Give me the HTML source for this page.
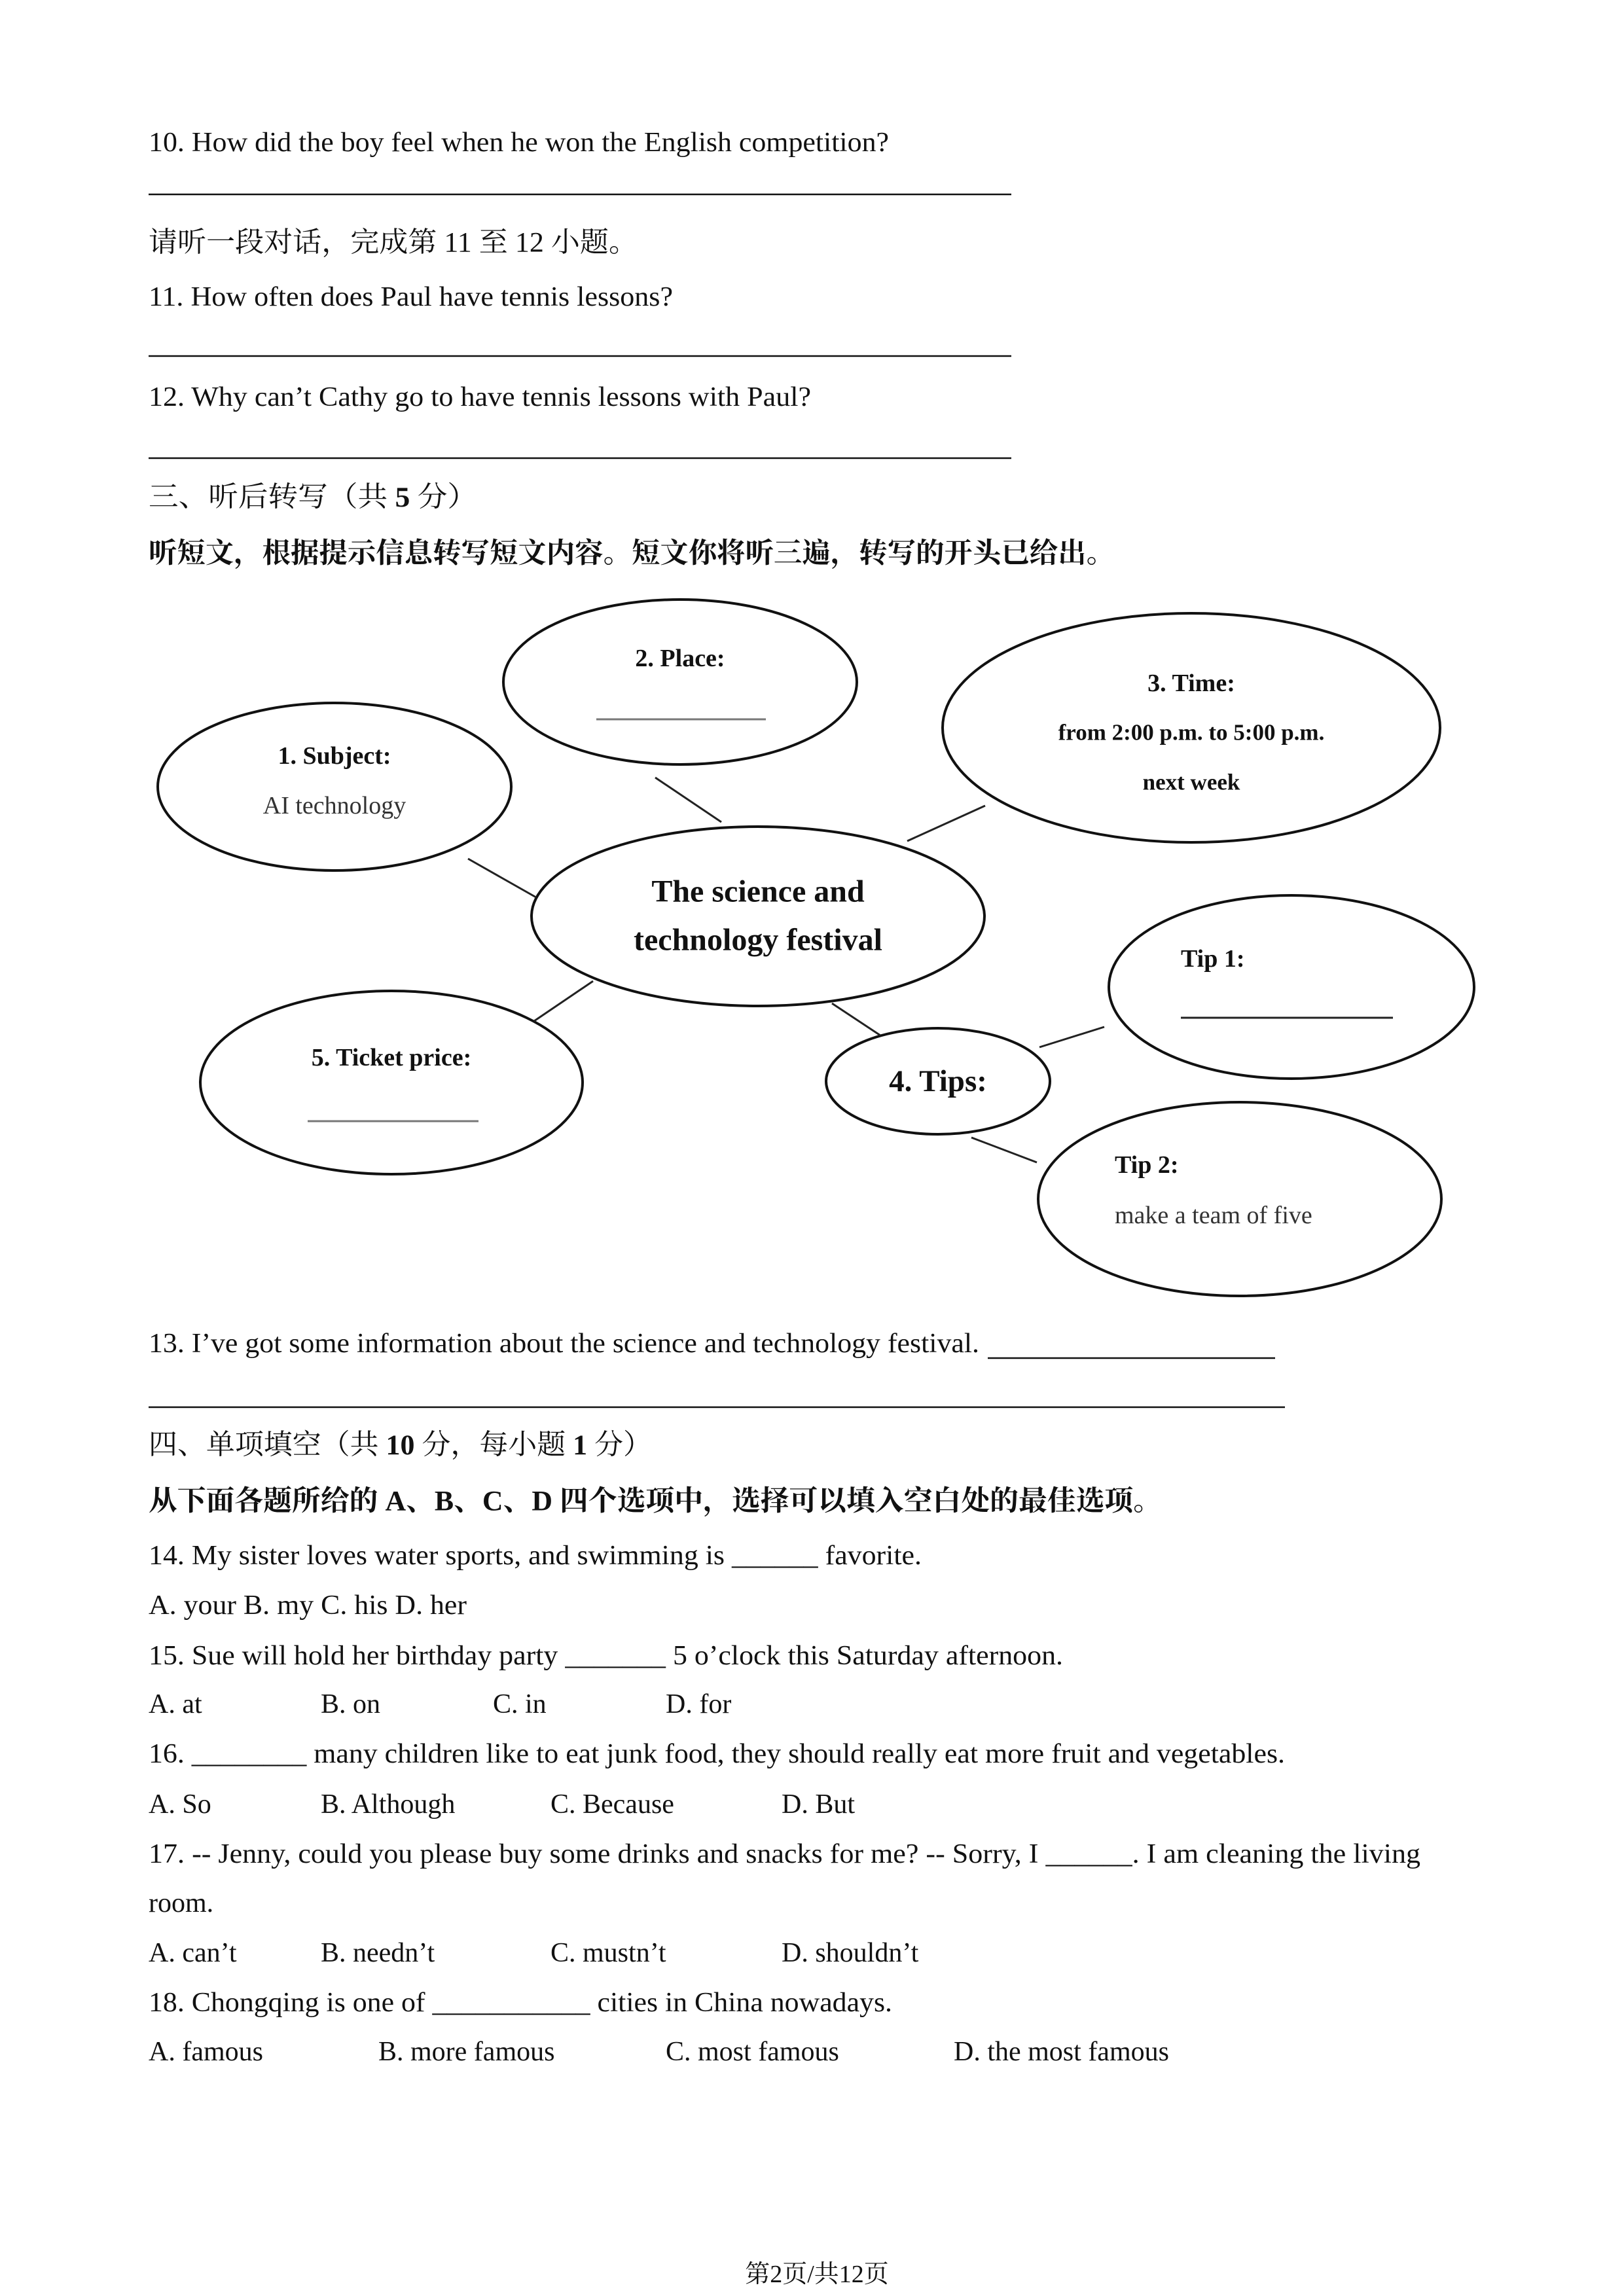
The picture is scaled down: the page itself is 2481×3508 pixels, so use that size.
<!DOCTYPE html>
<html><head><meta charset="utf-8"><style>
html,body{margin:0;padding:0;background:#fff;}
svg{display:block;}
text{font-family:"Liberation Serif","Noto Serif CJK SC","Noto Sans CJK SC",serif;fill:#111;}
.t{font-size:42px;dominant-baseline:central;}
.c{font-family:"Liberation Serif","Noto Serif CJK SC","Noto Sans CJK SC",serif;font-size:43px;}
.b{font-weight:bold;}
.d{font-size:38px;font-weight:bold;dominant-baseline:central;text-anchor:middle;}
.dn{font-size:38px;dominant-baseline:central;text-anchor:middle;fill:#333;}
</style></head><body>
<svg width="2481" height="3508" viewBox="0 0 2481 3508" xmlns="http://www.w3.org/2000/svg">
<rect width="2481" height="3508" fill="#fff"/>
<g stroke="#111" stroke-width="2.5">
<line x1="227" y1="297" x2="1545" y2="297"/>
<line x1="227" y1="544" x2="1545" y2="544"/>
<line x1="227" y1="700" x2="1545" y2="700"/>
<line x1="1509" y1="2075" x2="1948" y2="2075"/>
<line x1="227" y1="2150" x2="1963" y2="2150"/>
</g>
<text class="t" x="227" y="218" textLength="1131" lengthAdjust="spacingAndGlyphs">10. How did the boy feel when he won the English competition?</text>
<text class="t c" x="227" y="371" textLength="747" lengthAdjust="spacingAndGlyphs">请听一段对话，完成第 11 至 12 小题。</text>
<text class="t" x="227" y="454" textLength="801" lengthAdjust="spacingAndGlyphs">11. How often does Paul have tennis lessons?</text>
<text class="t" x="227" y="607" textLength="1012" lengthAdjust="spacingAndGlyphs">12. Why can’t Cathy go to have tennis lessons with Paul?</text>
<text class="t c" x="227" y="760" textLength="502" lengthAdjust="spacingAndGlyphs">三、听后转写（共 <tspan class="b">5</tspan> 分）</text>
<text class="t c b" x="227" y="846" textLength="1476" lengthAdjust="spacingAndGlyphs">听短文，根据提示信息转写短文内容。短文你将听三遍，转写的开头已给出。</text>

<g transform="translate(0,-6)">
<g fill="none" stroke="#111" stroke-width="4">
<ellipse cx="511" cy="1208" rx="270" ry="128"/>
<ellipse cx="1039" cy="1048" rx="270" ry="126"/>
<ellipse cx="1820" cy="1118" rx="380" ry="175"/>
<ellipse cx="1158" cy="1406" rx="346" ry="137"/>
<ellipse cx="1973" cy="1514" rx="279" ry="140"/>
<ellipse cx="598" cy="1660" rx="292" ry="140"/>
<ellipse cx="1433" cy="1658" rx="171" ry="81"/>
<ellipse cx="1894" cy="1838" rx="308" ry="148"/>
</g>
<g stroke="#222" stroke-width="3">
<line x1="715" y1="1318" x2="819" y2="1377"/>
<line x1="1001" y1="1194" x2="1102" y2="1262"/>
<line x1="1386" y1="1291" x2="1505" y2="1237"/>
<line x1="906" y1="1505" x2="816" y2="1566"/>
<line x1="1271" y1="1539" x2="1345" y2="1588"/>
<line x1="1588" y1="1606" x2="1687" y2="1575"/>
<line x1="1484" y1="1744" x2="1584" y2="1782"/>
</g>
<g stroke="#777" stroke-width="3">
<line x1="911" y1="1105" x2="1170" y2="1105"/>
<line x1="470" y1="1719" x2="731" y2="1719"/>
<line x1="1804" y1="1561" x2="2128" y2="1561" stroke="#222"/>
</g>
<text class="d" x="1039" y="1012">2. Place:</text>
<text class="d" x="511" y="1161">1. Subject:</text>
<text class="dn" x="511" y="1237">AI technology</text>
<text class="d" x="1820" y="1050">3. Time:</text>
<text class="d" x="1820" y="1125" style="font-size:35px">from 2:00 p.m. to 5:00 p.m.</text>
<text class="d" x="1820" y="1201" style="font-size:35px">next week</text>
<text class="d" x="1158" y="1368" style="font-size:48px">The science and</text>
<text class="d" x="1158" y="1442" style="font-size:48px">technology festival</text>
<text class="d" x="1804" y="1471" style="text-anchor:start">Tip 1:</text>
<text class="d" x="598" y="1622">5. Ticket price:</text>
<text class="d" x="1433" y="1658" style="font-size:47px">4. Tips:</text>
<text class="d" x="1703" y="1786" style="text-anchor:start">Tip 2:</text>
<text class="dn" x="1703" y="1863" style="text-anchor:start">make a team of five</text>
</g>

<g transform="translate(0,-12)">
<text class="t" x="227" y="2065" textLength="1269" lengthAdjust="spacingAndGlyphs">13. I’ve got some information about the science and technology festival.</text>
<text class="t c" x="227" y="2220" textLength="769" lengthAdjust="spacingAndGlyphs">四、单项填空（共 <tspan class="b">10</tspan> 分，每小题 <tspan class="b">1</tspan> 分）</text>
<text class="t c b" x="227" y="2306" textLength="1548" lengthAdjust="spacingAndGlyphs">从下面各题所给的 A、B、C、D 四个选项中，选择可以填入空白处的最佳选项。</text>
<text class="t" x="227" y="2389" textLength="1181" lengthAdjust="spacingAndGlyphs">14. My sister loves water sports, and swimming is ______ favorite.</text>
<text class="t" x="227" y="2465" textLength="486" lengthAdjust="spacingAndGlyphs">A. your B. my C. his D. her</text>
<text class="t" x="227" y="2542" textLength="1397" lengthAdjust="spacingAndGlyphs">15. Sue will hold her birthday party _______ 5 o’clock this Saturday afternoon.</text>
<text class="t" x="227" y="2616">A. at</text><text class="t" x="490" y="2616">B. on</text><text class="t" x="753" y="2616">C. in</text><text class="t" x="1017" y="2616">D. for</text>
<text class="t" x="227" y="2692" textLength="1736" lengthAdjust="spacingAndGlyphs">16. ________ many children like to eat junk food, they should really eat more fruit and vegetables.</text>
<text class="t" x="227" y="2769">A. So</text><text class="t" x="490" y="2769">B. Although</text><text class="t" x="841" y="2769">C. Because</text><text class="t" x="1194" y="2769">D. But</text>
<text class="t" x="227" y="2845" textLength="1943" lengthAdjust="spacingAndGlyphs">17. -- Jenny, could you please buy some drinks and snacks for me? -- Sorry, I ______. I am cleaning the living</text>
<text class="t" x="227" y="2920">room.</text>
<text class="t" x="227" y="2996">A. can’t</text><text class="t" x="490" y="2996">B. needn’t</text><text class="t" x="841" y="2996">C. mustn’t</text><text class="t" x="1194" y="2996">D. shouldn’t</text>
<text class="t" x="227" y="3072" textLength="1136" lengthAdjust="spacingAndGlyphs">18. Chongqing is one of ___________ cities in China nowadays.</text>
<text class="t" x="227" y="3147">A. famous</text><text class="t" x="578" y="3147">B. more famous</text><text class="t" x="1017" y="3147">C. most famous</text><text class="t" x="1457" y="3147">D. the most famous</text>
</g>
<text class="t" x="1248" y="3475" style="font-size:38px;text-anchor:middle">第2页/共12页</text>
</svg>
</body></html>
